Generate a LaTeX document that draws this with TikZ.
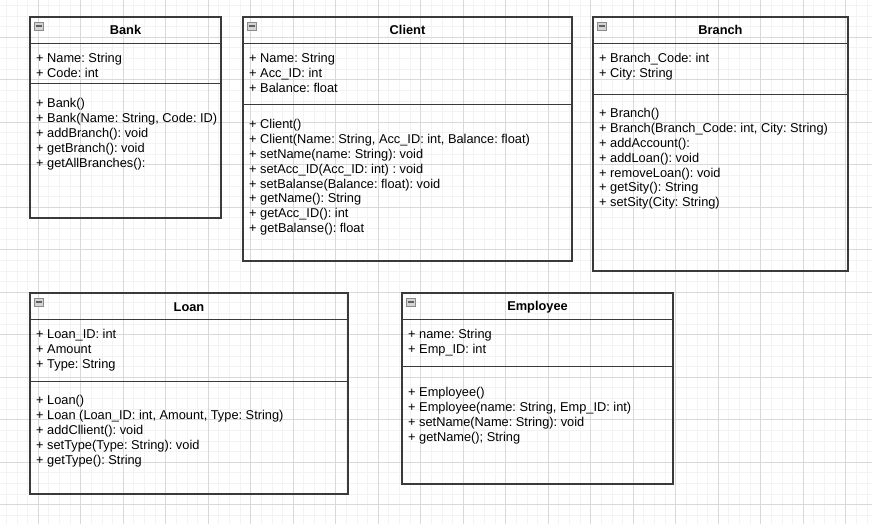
\documentclass[tikz,border=0pt]{standalone}
\usepackage{fontspec}
\setmainfont{Liberation Sans}
\usepackage{tikz}
\usetikzlibrary{shapes,arrows}
\frenchspacing
\definecolor{bframe}{HTML}{3a3a3a}
\definecolor{bicon}{HTML}{8a8a8a}
\definecolor{bfill}{HTML}{d4d4d4}
\definecolor{bbar}{HTML}{606060}
\definecolor{bgridminor}{HTML}{f3f3f3}
\definecolor{bgridmajor}{HTML}{d9d9d9}
\tikzstyle{classbox} = [rectangle, draw=bframe, line width=1.3, inner sep=0]
\tikzstyle{classtitle} = [font=\fontsize{12.8}{14.8}\selectfont\bfseries, inner sep=0]
\tikzstyle{members} = [font=\fontsize{12.8}{14.8}\selectfont, align=left, anchor=north west, inner sep=0]
\tikzstyle{divider} = [draw=bframe, line width=1]
\tikzstyle{toggle} = [rectangle, draw=bicon, fill=bfill, minimum width=9, minimum height=8.5, inner sep=0]
\tikzstyle{togglebar} = [draw=bbar, line width=1.8]
\tikzstyle{gridminor} = [draw=bgridminor, line width=0.9]
\tikzstyle{gridmajor} = [draw=bgridmajor, line width=0.8]

\begin{document}
\begin{tikzpicture}[x=1pt, y=-1pt]
\useasboundingbox (0,0) rectangle (872,524);
\fill[white] (0,0) rectangle (872,524);

%% grid
\foreach \i in {0,...,81} \draw[gridminor] ({6.4+10.625*\i},0) -- ({6.4+10.625*\i},524);
\foreach \i in {0,...,48} \draw[gridminor] (0,{5.4+10.625*\i}) -- (872,{5.4+10.625*\i});
\foreach \i in {0,...,19} \draw[gridmajor] ({38.3+42.5*\i},0) -- ({38.3+42.5*\i},524);
\foreach \i in {0,...,11} \draw[gridmajor] (0,{37.3+42.5*\i}) -- (872,{37.3+42.5*\i});

%% Bank
\node[classbox, minimum width=191, minimum height=201] at (125.5, 117.5) (bank) {};
\node[toggle] at (38.7, 26) (banktoggle) {};
\path[togglebar] ([xshift=1.5]banktoggle.west) -- ([xshift=-1.5]banktoggle.east);
\node[classtitle] at (125.5, 30) (banktitle) {Bank};
\path[divider] ([yshift=-27]bank.north west) -- ([yshift=-27]bank.north east);
\node[members] at (36, 53.4) (bankattr) {+ Name: String\\+ Code: int};
\path[divider] ([yshift=-67]bank.north west) -- ([yshift=-67]bank.north east);
\node[members] at (36, 98.4) (bankops) {+ Bank()\\+ Bank(Name: String, Code: ID)\\+ addBranch(): void\\+ getBranch(): void\\+ getAllBranches():};

%% Client
\node[classbox, minimum width=329, minimum height=244] at (407.5, 139) (client) {};
\node[toggle] at (251.7, 26) (clienttoggle) {};
\path[togglebar] ([xshift=1.5]clienttoggle.west) -- ([xshift=-1.5]clienttoggle.east);
\node[classtitle] at (407.5, 30) (clienttitle) {Client};
\path[divider] ([yshift=-27]client.north west) -- ([yshift=-27]client.north east);
\node[members] at (249, 53.4) (clientattr) {+ Name: String\\+ Acc\_ID: int\\+ Balance: float};
\path[divider] ([yshift=-88]client.north west) -- ([yshift=-88]client.north east);
\node[members] at (249, 119.4) (clientops) {+ Client()\\+ Client(Name: String, Acc\_ID: int, Balance: float)\\+ setName(name: String): void\\+ setAcc\_ID(Acc\_ID: int) : void\\+ setBalanse(Balance: float): void\\+ getName(): String\\+ getAcc\_ID(): int\\+ getBalanse(): float};

%% Branch
\node[classbox, minimum width=255, minimum height=254] at (720.5, 144) (branch) {};
\node[toggle] at (601.7, 26) (branchtoggle) {};
\path[togglebar] ([xshift=1.5]branchtoggle.west) -- ([xshift=-1.5]branchtoggle.east);
\node[classtitle] at (720.5, 30) (branchtitle) {Branch};
\path[divider] ([yshift=-27]branch.north west) -- ([yshift=-27]branch.north east);
\node[members] at (599, 53.4) (branchattr) {+ Branch\_Code: int\\+ City: String};
\path[divider] ([yshift=-78]branch.north west) -- ([yshift=-78]branch.north east);
\node[members] at (599, 108.4) (branchops) {+ Branch()\\+ Branch(Branch\_Code: int, City: String)\\+ addAccount():\\+ addLoan(): void\\+ removeLoan(): void\\+ getSity(): String\\+ setSity(City: String)};

%% Loan
\node[classbox, minimum width=318, minimum height=201] at (189, 393.5) (loan) {};
\node[toggle] at (38.7, 302) (loantoggle) {};
\path[togglebar] ([xshift=1.5]loantoggle.west) -- ([xshift=-1.5]loantoggle.east);
\node[classtitle] at (189, 307) (loantitle) {Loan};
\path[divider] ([yshift=-27]loan.north west) -- ([yshift=-27]loan.north east);
\node[members] at (36, 329.4) (loanattr) {+ Loan\_ID: int\\+ Amount\\+ Type: String};
\path[divider] ([yshift=-89]loan.north west) -- ([yshift=-89]loan.north east);
\node[members] at (36, 395.4) (loanops) {+ Loan()\\+ Loan (Loan\_ID: int, Amount, Type: String)\\+ addCllient(): void\\+ setType(Type: String): void\\+ getType(): String};

%% Employee
\node[classbox, minimum width=271, minimum height=191] at (537.5, 388.5) (employee) {};
\node[toggle] at (410.9, 302) (employeetoggle) {};
\path[togglebar] ([xshift=1.5]employeetoggle.west) -- ([xshift=-1.5]employeetoggle.east);
\node[classtitle] at (537.5, 307) (employeetitle) {Employee};
\path[divider] ([yshift=-27]employee.north west) -- ([yshift=-27]employee.north east);
\node[members] at (408, 329.4) (employeeattr) {+ name: String\\+ Emp\_ID: int};
\path[divider] ([yshift=-74]employee.north west) -- ([yshift=-74]employee.north east);
\node[members] at (408, 387.4) (employeeops) {+ Employee()\\+ Employee(name: String, Emp\_ID: int)\\+ setName(Name: String): void\\+ getName(); String};
\end{tikzpicture}
\end{document}
